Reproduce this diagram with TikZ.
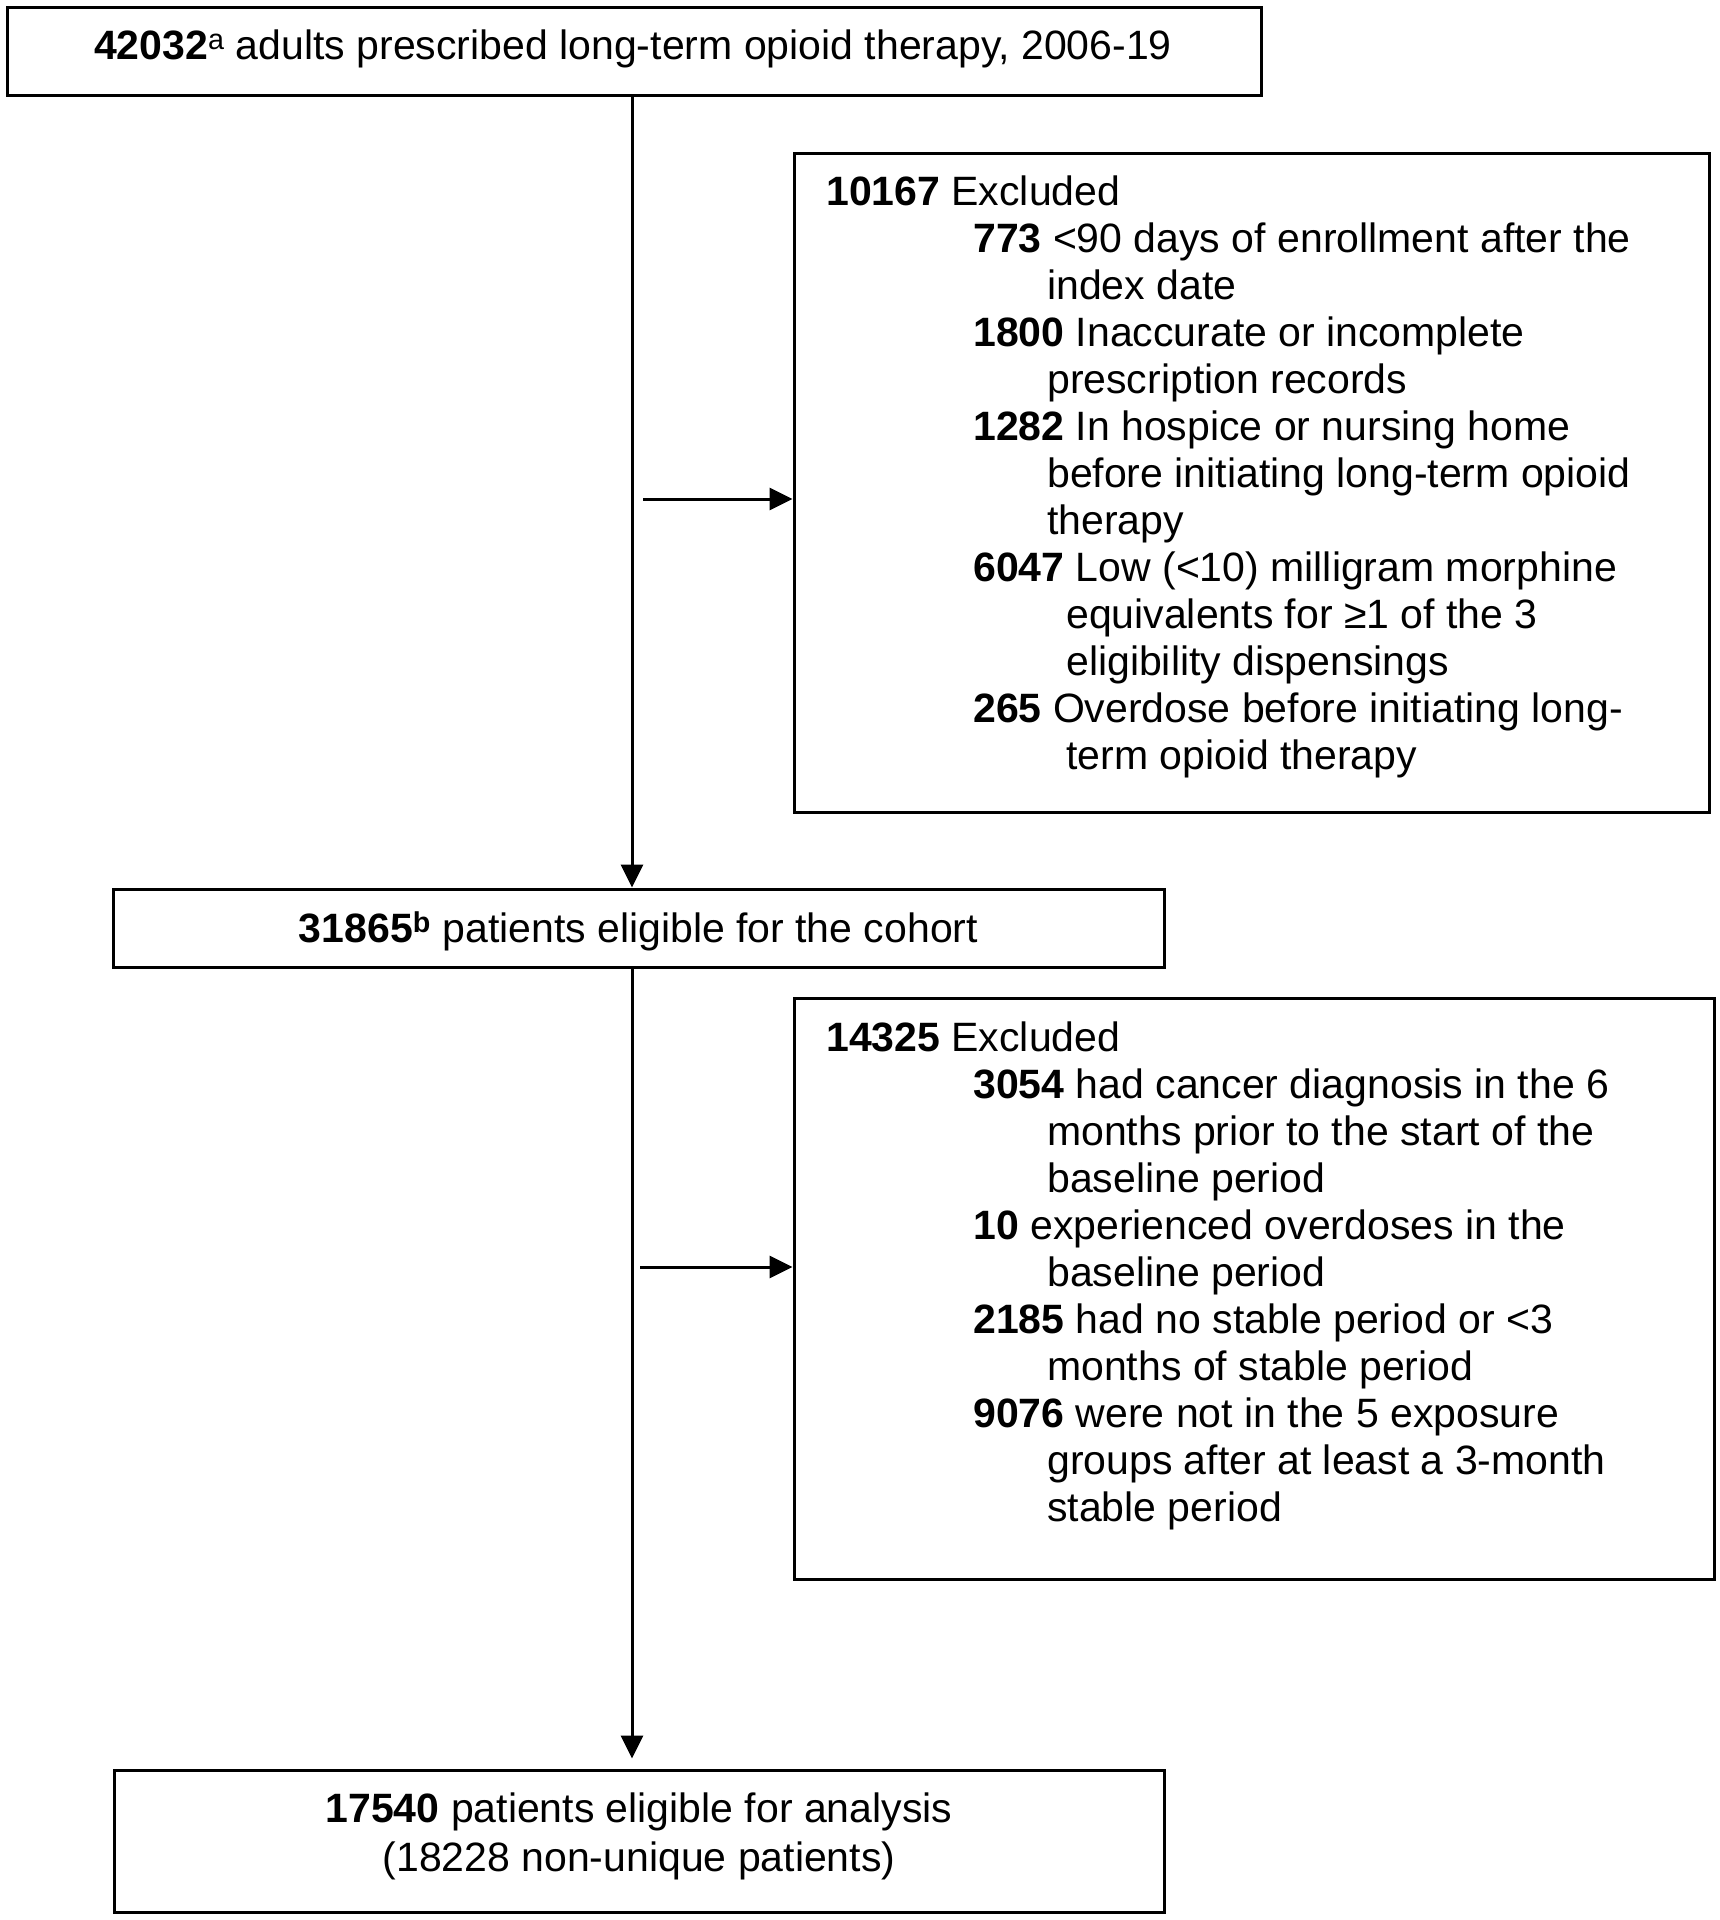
\documentclass[tikz,border=0pt]{standalone}
\usepackage{fontspec}
\setmainfont{Liberation Sans}
\usetikzlibrary{arrows.meta}
\begin{document}
\begin{tikzpicture}[x=1pt,y=-1pt,
  every node/.style={font=\fontsize{41}{47}\selectfont},
  box/.style={draw=black, line width=3pt, fill=white, inner sep=0pt},
  txt/.style={anchor=base west, inner sep=0pt},
  ctxt/.style={anchor=base, inner sep=0pt},
  arr/.style={line width=3pt, -{Triangle[length=23pt,width=22pt]}}]
\useasboundingbox[fill=white] (0,0) rectangle (1720,1920);

% boxes
\node[box, minimum width=1254pt, minimum height=88pt] (b1) at (634,51) {};
\node[box, minimum width=915pt, minimum height=659pt] (b2) at (1251.5,482.5) {};
\node[box, minimum width=1051pt, minimum height=78pt] (b3) at (638.5,928) {};
\node[box, minimum width=920pt, minimum height=581pt] (b4) at (1254,1288.5) {};
\node[box, minimum width=1050pt, minimum height=142pt] (b5) at (639,1841) {};

% centred texts
\node[ctxt] (t1) at (633,59)
  {\textbf{42032}\textsuperscript{a} adults prescribed long-term opioid therapy, 2006-19};
\node[ctxt] (t3) at (638.5,942)
  {\textbf{31865\textsuperscript{b}} patients eligible for the cohort};
\node[ctxt] (t5a) at (639,1822) {\textbf{17540} patients eligible for analysis};
\node[ctxt] (t5b) at (639,1871) {(18228 non-unique patients)};

% text of first exclusion box
\node[txt] (e1) at (826,205) {\textbf{10167} Excluded};
\node[txt] (e2) at (973,252) {\textbf{773} <90 days of enrollment after the};
\node[txt] (e3) at (1047,299) {index date};
\node[txt] (e4) at (973,346) {\textbf{1800} Inaccurate or incomplete};
\node[txt] (e5) at (1047,393) {prescription records};
\node[txt] (e6) at (973,440) {\textbf{1282} In hospice or nursing home};
\node[txt] (e7) at (1047,487) {before initiating long-term opioid};
\node[txt] (e8) at (1047,534) {therapy};
\node[txt] (e9) at (973,581) {\textbf{6047} Low (<10) milligram morphine};
\node[txt] (e10) at (1066,628) {equivalents for ≥1 of the 3};
\node[txt] (e11) at (1066,675) {eligibility dispensings};
\node[txt] (e12) at (973,722) {\textbf{265} Overdose before initiating long-};
\node[txt] (e13) at (1066,769) {term opioid therapy};

% text of second exclusion box
\node[txt] (f1) at (826,1051) {\textbf{14325} Excluded};
\node[txt] (f2) at (973,1098) {\textbf{3054} had cancer diagnosis in the 6};
\node[txt] (f3) at (1047,1145) {months prior to the start of the};
\node[txt] (f4) at (1047,1192) {baseline period};
\node[txt] (f5) at (973,1239) {\textbf{10} experienced overdoses in the};
\node[txt] (f6) at (1047,1286) {baseline period};
\node[txt] (f7) at (973,1333) {\textbf{2185} had no stable period or <3};
\node[txt] (f8) at (1047,1380) {months of stable period};
\node[txt] (f9) at (973,1427) {\textbf{9076} were not in the 5 exposure};
\node[txt] (f10) at (1047,1474) {groups after at least a 3-month};
\node[txt] (f11) at (1047,1521) {stable period};

% connectors
\coordinate (spine) at (632,0);
\coordinate (a1) at (643,499);
\coordinate (a2) at (640,1267);
\draw[arr] (b1.south -| spine) -- (b3.north -| spine);
\draw[arr, shorten >=10pt] (b3.south -| spine) -- (b5.north -| spine);
\draw[arr] (a1) -- (a1 -| b2.west);
\draw[arr] (a2) -- (a2 -| b4.west);
\end{tikzpicture}
\end{document}
